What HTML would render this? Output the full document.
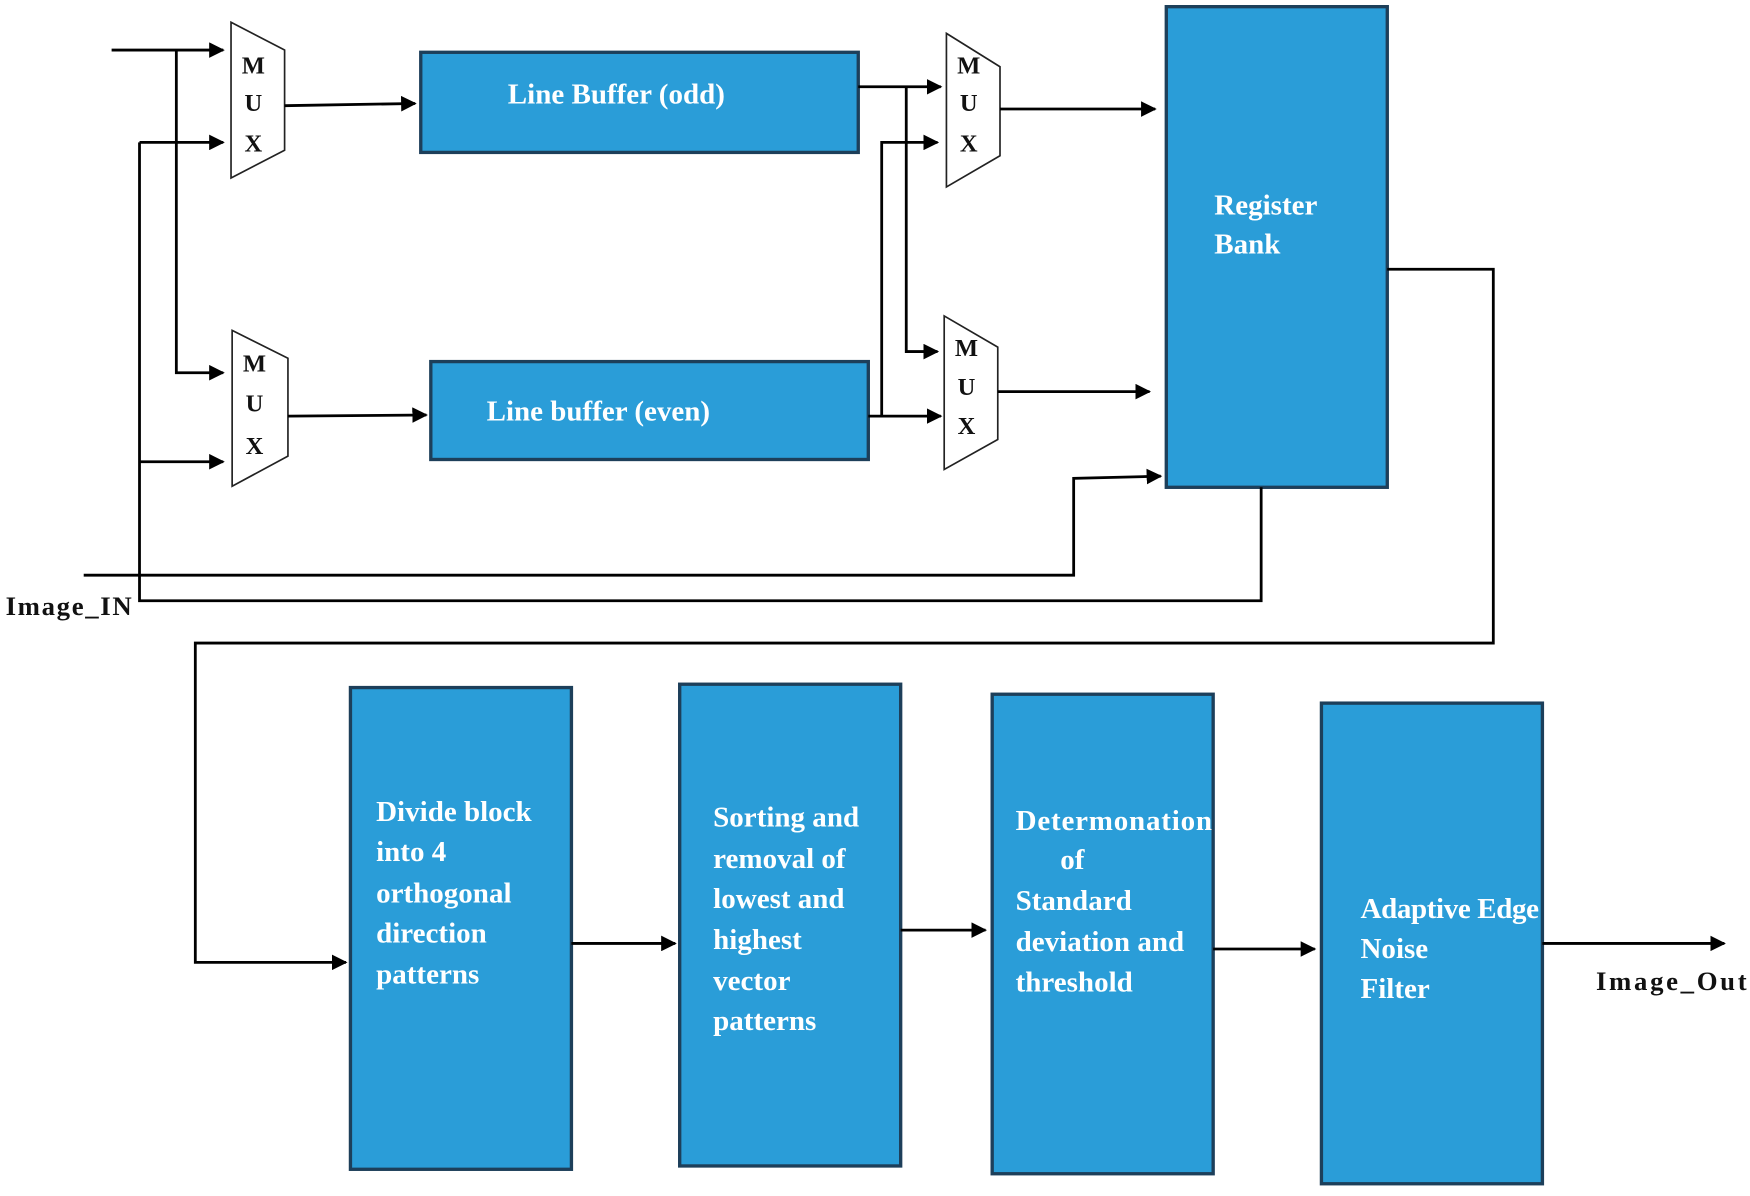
<!DOCTYPE html>
<html><head><meta charset="utf-8"><style>html,body{margin:0;padding:0;background:#fff}svg{display:block}</style></head>
<body>
<svg width="1750" height="1196" viewBox="0 0 1568 1075" preserveAspectRatio="none" xmlns="http://www.w3.org/2000/svg">
<defs>
<marker id="b" viewBox="0 0 10 10" refX="9" refY="5" markerWidth="14" markerHeight="14" orient="auto" markerUnits="userSpaceOnUse"><path d="M0,0L10,5L0,10z" fill="#000"/></marker></defs>
<g fill="#2a9dd8" stroke="#1d3f5a" stroke-width="3">
<rect x="377" y="47" width="392" height="90"/>
<rect x="386" y="325" width="392" height="88"/>
<rect x="1045" y="6" width="198" height="432"/>
<rect x="314" y="618" width="198" height="433"/>
<rect x="609" y="615" width="198" height="433"/>
<rect x="889" y="624" width="198" height="431"/>
<rect x="1184" y="632" width="198" height="432"/>
</g>
<g fill="#fff" stroke="#222" stroke-width="1.5">
<polygon points="207,20 255,45 255,135 207,160"/>
<polygon points="208,297 258,322 258,410 208,437"/>
<polygon points="848,30 896,60 896,140 848,168"/>
<polygon points="846,284 894,312 894,395 846,422"/>
</g>
<g font-family="Liberation Serif, serif" font-weight="bold" font-size="22" fill="#111" text-anchor="middle">
<text x="227" y="66">M</text><text x="227" y="100">U</text><text x="227" y="136">X</text>
<text x="228" y="334">M</text><text x="228" y="370">U</text><text x="228" y="408">X</text>
<text x="868" y="66">M</text><text x="868" y="100">U</text><text x="868" y="136">X</text>
<text x="866" y="320">M</text><text x="866" y="355">U</text><text x="866" y="390">X</text>
</g>
<g fill="none" stroke="#000" stroke-width="2.5">
<path d="M100,45H200" marker-end="url(#b)"/>
<path d="M158,45V335H200" marker-end="url(#b)"/>
<path d="M125,128H200" marker-end="url(#b)"/>
<path d="M125,415H200" marker-end="url(#b)"/>
<path d="M1130,438V540H125V128"/>
<path d="M75,517H962V430L1040,428" marker-end="url(#b)"/>
<path d="M255,95L372,93" marker-end="url(#b)"/>
<path d="M258,374L382,373" marker-end="url(#b)"/>
<path d="M769,78H843" marker-end="url(#b)"/>
<path d="M812,78V316H840" marker-end="url(#b)"/>
<path d="M778,374H843" marker-end="url(#b)"/>
<path d="M790,374V128H840" marker-end="url(#b)"/>
<path d="M896,98H1035" marker-end="url(#b)"/>
<path d="M894,352H1030" marker-end="url(#b)"/>
<path d="M1243,242H1338V578H175V865L310,865" marker-end="url(#b)"/>
<path d="M512,848H605" marker-end="url(#b)"/>
<path d="M807,836H883" marker-end="url(#b)"/>
<path d="M1087,853H1178" marker-end="url(#b)"/>
<path d="M1382,848H1545" marker-end="url(#b)"/>
</g>
<g font-family="Liberation Serif, serif" font-weight="bold" font-size="26" fill="#fff">
<text x="455" y="93">Line Buffer (odd)</text>
<text x="436" y="378">Line buffer (even)</text>
<text x="1088" y="193">Register</text><text x="1088" y="228">Bank</text>
<text x="337" y="738">Divide block</text><text x="337" y="774">into 4</text><text x="337" y="811">orthogonal</text><text x="337" y="847">direction</text><text x="337" y="884">patterns</text>
<text x="639" y="743">Sorting and</text><text x="639" y="780">removal of</text><text x="639" y="816">lowest and</text><text x="639" y="853">highest</text><text x="639" y="890">vector</text><text x="639" y="926">patterns</text>
<text x="910" y="746" textLength="176">Determonation</text><text x="950" y="781">of</text><text x="910" y="818">Standard</text><text x="910" y="855">deviation and</text><text x="910" y="891">threshold</text>
<text x="1219" y="825" textLength="160">Adaptive Edge</text><text x="1219" y="861">Noise</text><text x="1219" y="897">Filter</text>
</g>
<g font-family="Liberation Serif, serif" font-weight="bold" font-size="24" fill="#111">
<text x="5" y="553" textLength="113">Image_IN</text>
<text x="1430" y="890" textLength="135">Image_Out</text>
</g>
</svg>
</body></html>
